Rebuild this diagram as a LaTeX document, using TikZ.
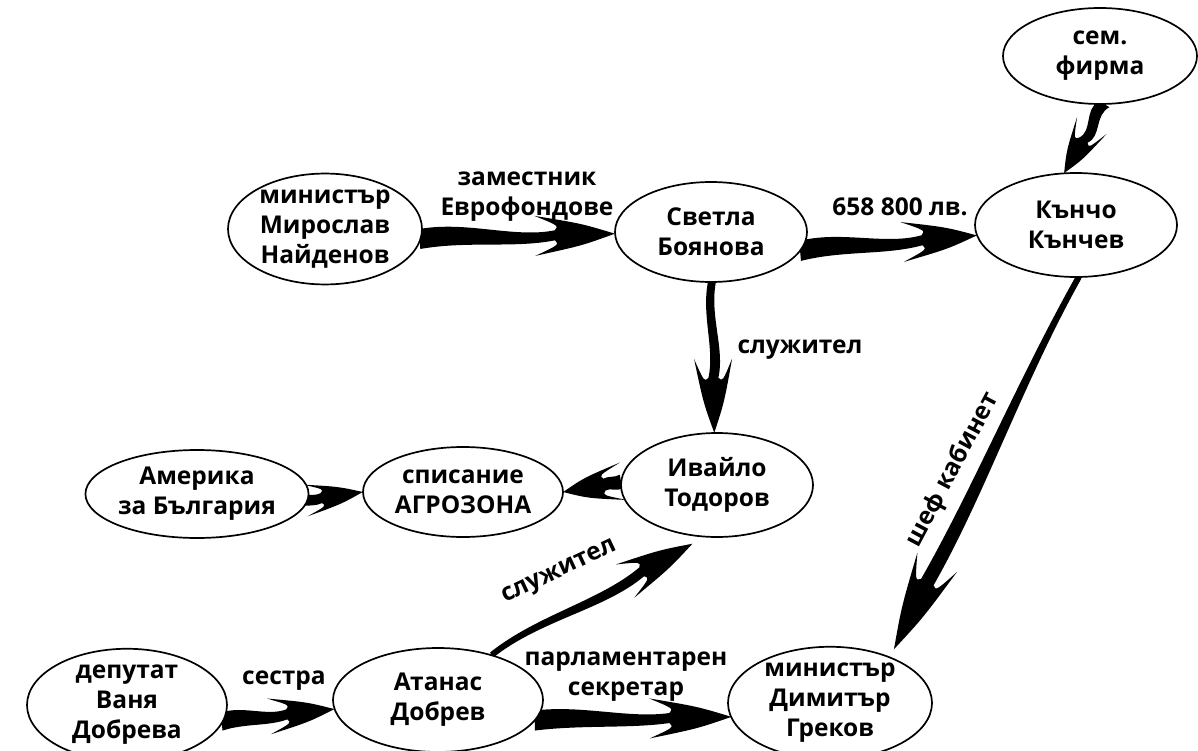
\documentclass[tikz,border=0pt]{standalone}
\usepackage{fontspec}
\setmainfont{Open Sans}[Language=Bulgarian,Script=Cyrillic]
\usetikzlibrary{shapes.geometric,calc}
\newcommand\bigfont{\fontsize{24.5}{30}\selectfont\bfseries}
\tikzset{
  person/.style={ellipse, draw, line width=1.7pt, fill=white, inner sep=0pt, align=center, font=\bigfont},
  ghost/.style={ellipse, inner sep=0pt},
  lbl/.style={align=center, font=\bigfont, inner sep=0pt},
}
% #1 start, #2 end, #3 wave amplitude, #4 tail half-width, #5 body half-width at head,
% #6 head length, #7 head half-width
\newcommand\farrow[7]{%
  \path (#1) coordinate (faS) (#2) coordinate (faE);
  \pgfpointdiff{\pgfpointanchor{faS}{center}}{\pgfpointanchor{faE}{center}}%
  \pgfgetlastxy\faDx\faDy
  \pgfmathsetmacro\faAng{atan2(\faDy,\faDx)}%
  \pgfmathsetmacro\faL{veclen(\faDx,\faDy)}%
  \pgfmathsetmacro\fb{\faL-#6}%
  \pgfmathsetmacro\fA{0.35*\fb}%
  \pgfmathsetmacro\fB{0.7*\fb}%
  \pgfmathsetmacro\fbt{\fb-1.0*#7}%
  \pgfmathsetmacro\fbm{#5+0.3*(#7-#5)}%
  \pgfmathsetmacro\fcx{\fb+0.45*#6}%
  \pgfmathsetmacro\fcy{0.55*#7}%
  \fill[shift={(faS)}, rotate=\faAng, x=1pt, y=1pt]
    (0,#4) .. controls (\fA,#4+#3) and (\fB,#5-#3) .. (\fb,#5)
    .. controls (\fb+4,\fbm) .. (\fbt,#7)
    .. controls (\fcx,\fcy) .. (\faL,0)
    .. controls (\fcx,-\fcy) .. (\fbt,-#7)
    .. controls (\fb+4,-\fbm) .. (\fb,-#5)
    .. controls (\fB,-#5-#3) and (\fA,-#4+#3) .. (0,-#4) -- cycle;
}
\begin{document}
\begin{tikzpicture}[x=1pt,y=-1pt]
\useasboundingbox (0,0) rectangle (1198,751);
% shape placeholders, used for anchors of the arrows
\node[ghost, minimum width=194, minimum height=96] (sem) at (1100,56) {};
\node[ghost, minimum width=202, minimum height=104] (kan) at (1076,225) {};
\node[ghost, minimum width=194, minimum height=94] (mir) at (325,229) {};
\node[ghost, minimum width=192, minimum height=100] (svt) at (711,232) {};
\node[ghost, minimum width=194, minimum height=88] (ame) at (197,494) {};
\node[ghost, minimum width=200, minimum height=90] (spis) at (463,492) {};
\node[ghost, minimum width=192, minimum height=104] (ivl) at (717,485) {};
\node[ghost, minimum width=200, minimum height=100] (van) at (127,705) {};
\node[ghost, minimum width=210, minimum height=104] (ata) at (438,700) {};
\node[ghost, minimum width=204, minimum height=104] (dim) at (830,703) {};

% arrows
\farrow{mir.-6}{svt.181}{7}{10}{5}{60}{20}
\farrow{svt.-12}{kan.186}{7}{10}{5}{55}{20}
\farrow{sem.-85}{kan.103}{-9}{6}{5}{38}{17}
\farrow{svt.-89}{ivl.93}{-7}{4}{5}{55}{19}
\farrow{kan.-87}{$(dim.38)+(8,-10)$}{-6}{3}{7}{75}{22}
\farrow{ivl.178}{spis.east}{2}{7}{6}{42}{19}
\farrow{ame.-5}{spis.west}{3}{6}{5}{42}{16}
\farrow{van.-10}{ata.185}{5}{9}{5}{48}{18}
\farrow{ata.40}{$(ivl.246)+(-2,8)$}{10}{3}{5}{58}{19}
\farrow{ata.-12}{dim.188}{5}{10}{5}{62}{20}

% visible ellipses on top
\node[person, minimum width=194, minimum height=96] (sem2) at (sem) {сем.\\фирма};
\node[person, minimum width=202, minimum height=104] (kan2) at (kan) {Кънчо\\Кънчев};
\node[person, minimum width=194, minimum height=94] (mir2) at (mir) {министър\\Мирослав\\Найденов};
\node[person, minimum width=192, minimum height=100] (svt2) at (svt) {Светла\\Боянова};
\node[person, minimum width=194, minimum height=88] (ame2) at (ame) {Америка\\за България};
\node[person, minimum width=200, minimum height=90] (spis2) at (spis) {списание\\АГРОЗОНА};
\node[person, minimum width=192, minimum height=104] (ivl2) at (ivl) {Ивайло\\Тодоров};
\node[person, minimum width=200, minimum height=100] (van2) at (van) {депутат\\Ваня\\Добрева};
\node[person, minimum width=210, minimum height=104] (ata2) at (ata) {Атанас\\Добрев};
\node[person, minimum width=204, minimum height=104] (dim2) at (dim) {министър\\Димитър\\Греков};

% labels
\node[lbl] (l1) at (527,197) {заместник\\Еврофондове};
\node[lbl] (l2) at (900,207) {658 800 лв.};
\node[lbl] (l3) at (800,350) {служител};
\node[lbl, rotate=62] (l4) at (953,470) {шеф кабинет};
\node[lbl, rotate=25] (l5) at (560,573) {служител};
\node[lbl] (l6) at (284,681) {сестра};
\node[lbl] (l7) at (626,677) {парламентарен\\секретар};
\end{tikzpicture}
\end{document}
